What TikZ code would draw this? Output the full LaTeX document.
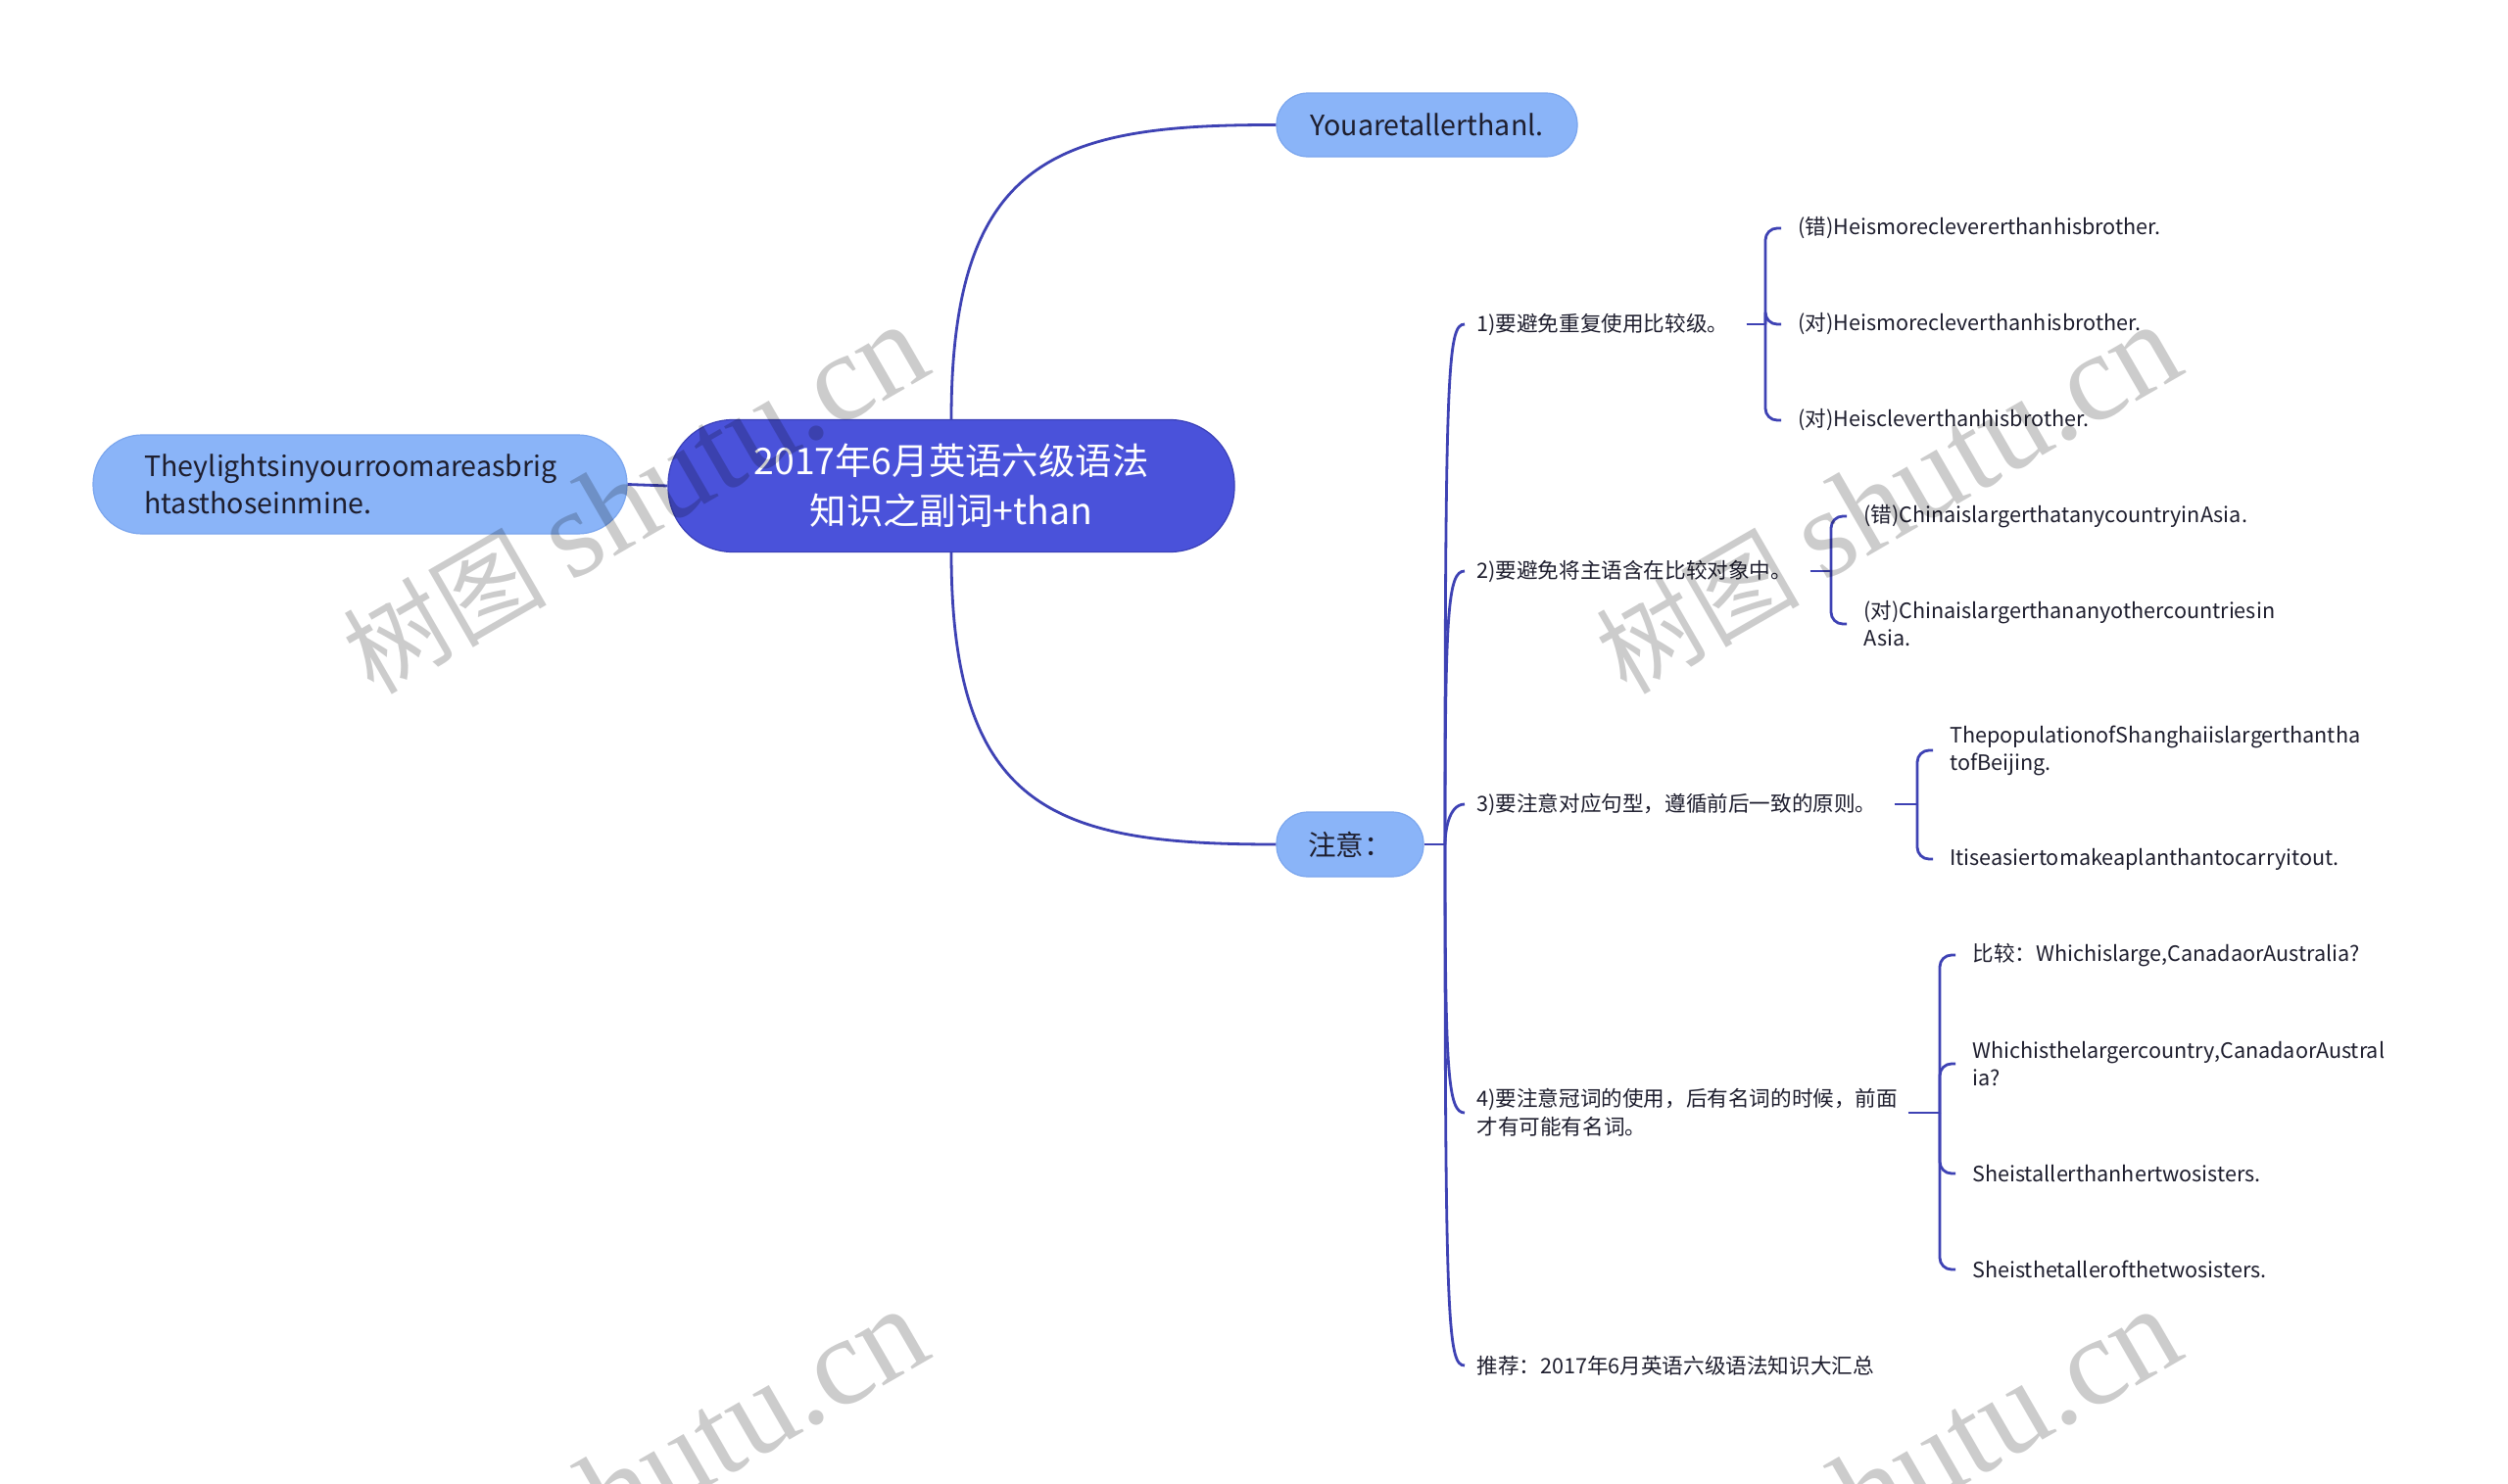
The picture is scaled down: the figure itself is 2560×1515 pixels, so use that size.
\documentclass[tikz,border=0pt]{standalone}
\usepackage{fontspec}
\setmainfont{Noto Sans CJK SC}
\newfontfamily\wmserif{Liberation Serif}
\newfontfamily\wmcjk{Noto Sans CJK SC}
\usetikzlibrary{calc}
\definecolor{cmain}{HTML}{4A52DA}
\definecolor{cmainb}{HTML}{3A40B8}
\definecolor{csub}{HTML}{8AB4F8}
\definecolor{csubb}{HTML}{7BA6EE}
\definecolor{cline}{HTML}{3E42B4}
\definecolor{ctext}{HTML}{1E1E2E}
\begin{document}
\begin{tikzpicture}[x=0.5pt,y=-0.5pt,
  line/.style={draw=cline, line width=1.4pt},
  central/.style={fill=cmain, draw=cmainb, line width=0.6pt, text=white, font=\fontsize{18.7}{25.5}\selectfont, align=center, inner sep=0pt},
  sub/.style={fill=csub, draw=csubb, line width=0.6pt, text=ctext, font=\fontsize{14.3}{19}\selectfont, inner sep=0pt},
  lvl/.style={anchor=west, inner sep=0pt, align=left, text=ctext, font=\fontsize{10.8}{14.5}\selectfont},
  leaf/.style={anchor=west, inner xsep=8.5pt, inner ysep=0pt, align=left, text=ctext, font=\fontsize{10.8}{14}\selectfont},
  wm/.style={text=black, text opacity=0.2, inner sep=0pt}]
\useasboundingbox (0,0) rectangle (2560,1515);
\fill[white] (0,0) rectangle (2560,1515);

% main nodes
\node[central, minimum width=289pt, minimum height=67.5pt, rounded corners=33pt] (root) at (971,496) {2017年6月英语六级语法\\知识之副词+than};
\node[sub, minimum width=272.5pt, minimum height=50.5pt, rounded corners=25pt, align=left, text width=220pt, inner xsep=26pt] (left) at (367.5,494.5) {Theylightsinyourroomareasbrig\\htasthoseinmine.};
\node[sub, minimum width=153.5pt, minimum height=32.5pt, rounded corners=16pt] (top) at (1456.5,127.5) {Youaretallerthanl.};
\node[sub, minimum width=75pt, minimum height=33pt, rounded corners=16pt] (note) at (1378,862) {注意：};

\draw[line] (left.east) -- (root.west);
\draw[line] (root.north) .. controls (971,160) and (1080,127) .. (top.west);
\draw[line] (root.south) .. controls (971,830) and (1080,862) .. (note.west);

% level 2
\coordinate (J) at (1475,862);
\draw[line] (note.east) -- (J);
\node[lvl] (n1) at (1507,331) {1)要避免重复使用比较级。};
\node[lvl] (n2) at (1507,583) {2)要避免将主语含在比较对象中。};
\node[lvl] (n3) at (1507,821) {3)要注意对应句型，遵循前后一致的原则。};
\node[lvl] (n4) at (1507,1136) {4)要注意冠词的使用，后有名词的时候，前面\\才有可能有名词。};
\node[lvl] (n5) at (1507,1394) {推荐：2017年6月英语六级语法知识大汇总};

\draw[line] (J) .. controls (1475,371) and (1478,331) .. ([xshift=-6pt]n1.west);
\draw[line] (J) .. controls (1475,623) and (1478,583) .. ([xshift=-6pt]n2.west);
\draw[line] (J) .. controls (1475,851) and (1478,821) .. ([xshift=-6pt]n3.west);
\draw[line] (J) .. controls (1475,1096) and (1478,1136) .. ([xshift=-6pt]n4.west);
\draw[line] (J) .. controls (1475,1354) and (1478,1394) .. ([xshift=-6pt]n5.west);

% group 1
\coordinate (b1) at (1802,331);
\draw[line] ([xshift=9pt]n1.east) -- (b1);
\node[leaf] (c11) at (1818,233) {(错)Heismoreclevererthanhisbrother.};
\node[leaf] (c12) at (1818,331) {(对)Heismorecleverthanhisbrother.};
\node[leaf] (c13) at (1818,429) {(对)Heiscleverthanhisbrother.};
\foreach \c in {c11,c12,c13} \draw[line, rounded corners=6pt] (b1) |- (\c.west);

% group 2
\coordinate (b2) at (1869,583);
\draw[line] ([xshift=9pt]n2.east) -- (b2);
\node[leaf] (c21) at (1885,527) {(错)ChinaislargerthatanycountryinAsia.};
\node[leaf] (c22) at (1885,637) {(对)Chinaislargerthananyothercountriesin\\Asia.};
\foreach \c in {c21,c22} \draw[line, rounded corners=6pt] (b2) |- (\c.west);

% group 3
\coordinate (b3) at (1957,821);
\draw[line] ([xshift=9pt]n3.east) -- (b3);
\node[leaf] (c31) at (1973,766) {ThepopulationofShanghaiislargerthantha\\tofBeijing.};
\node[leaf] (c32) at (1973,877) {Itiseasiertomakeaplanthantocarryitout.};
\foreach \c in {c31,c32} \draw[line, rounded corners=6pt] (b3) |- (\c.west);

% group 4
\coordinate (b4) at (1980,1136);
\draw[line] ([xshift=5pt]n4.east) -- (b4);
\node[leaf] (c41) at (1996,975) {比较：Whichislarge,CanadaorAustralia?};
\node[leaf] (c42) at (1996,1086) {Whichisthelargercountry,CanadaorAustral\\ia?};
\node[leaf] (c43) at (1996,1198) {Sheistallerthanhertwosisters.};
\node[leaf] (c44) at (1996,1296) {Sheisthetallerofthetwosisters.};
\foreach \c in {c41,c42,c43,c44} \draw[line, rounded corners=6pt] (b4) |- (\c.west);

% watermarks
\begin{scope}
\clip (0,0) rectangle (2560,1515);
\foreach \wx/\wy [count=\i] in {648/510, 1927/510, 648/1515, 1927/1515}
  \node[wm, rotate=30] (w\i) at (\wx,\wy) {{\wmcjk\fontsize{52}{52}\selectfont 树图}\hspace{12pt}{\wmserif\fontsize{64}{64}\selectfont shutu.cn}};
\end{scope}
\end{tikzpicture}
\end{document}
